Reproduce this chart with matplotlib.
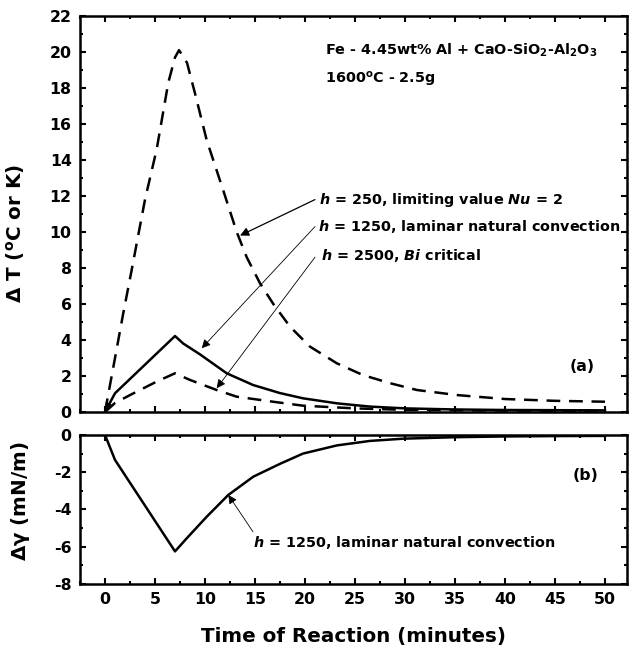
import matplotlib
matplotlib.use('Agg')
import matplotlib.pyplot as plt
from matplotlib.ticker import MultipleLocator

plt.rcParams['font.family'] = ['DejaVu Sans']
plt.rcParams['font.weight'] = 'bold'
plt.rcParams['mathtext.fontset'] = 'dejavusans'
plt.rcParams['axes.unicode_minus'] = False

# h = 250, limiting value Nu = 2
t_250 = [0, 1, 1.83, 2.67, 4.0, 5.17, 6.33, 7.0, 7.4, 8.2, 9.0, 10.17, 11.83, 13.17, 14.17,
         15.5, 16.83, 18.5, 20.5, 23.2, 25.8, 28.5, 31.2, 35.2, 40, 45, 50]
dT_250 = [0, 3.0, 5.5, 7.9, 11.8, 14.6, 18.3, 19.7, 20.1, 19.4, 17.7, 15.1, 12.3, 10.0, 8.6,
          7.15, 6.0, 4.74, 3.63, 2.7, 2.05, 1.6, 1.22, 0.94, 0.72, 0.62, 0.57]

# h = 1250, laminar natural convection
t_1250 = [0, 1, 7, 7.83, 9.5, 12.17, 14.8, 17.5, 19.8, 23.2, 26.5, 30, 35, 40, 45, 50]
dT_1250 = [0, 1.04, 4.22, 3.8, 3.2, 2.15, 1.5, 1.05, 0.76, 0.48, 0.3, 0.2, 0.14, 0.11, 0.1, 0.09]

# h = 2500, Bi critical
t_2500 = [0, 1, 2.5, 5.17, 7, 8.5, 11.17, 13.17, 16.8, 19.8, 25, 30, 40, 50]
dT_2500 = [0, 0.5, 0.94, 1.69, 2.15, 1.78, 1.22, 0.85, 0.57, 0.35, 0.2, 0.12, 0.08, 0.06]

# surface tension change, h = 1250
t_gam = [0, 1, 7, 8.17, 10.17, 12.33, 14.83, 17.5, 19.8, 23.2, 26.5, 29.8, 35, 40, 45, 50]
d_gam = [0, -1.34, -6.25, -5.55, -4.39, -3.22, -2.24, -1.55, -1.0, -0.56, -0.32, -0.2,
         -0.12, -0.08, -0.06, -0.05]

fig = plt.figure(figsize=(6.29, 6.49), dpi=100)
ax1 = fig.add_axes([0.1272, 0.3652, 0.8696, 0.6102])
ax2 = fig.add_axes([0.1272, 0.1002, 0.8696, 0.2296])

dash = (5.5, 3.5)
ax1.plot(t_250, dT_250, color='k', lw=1.8, dashes=dash)
ax1.plot(t_1250, dT_1250, color='k', lw=1.8)
ax1.plot(t_2500, dT_2500, color='k', lw=1.8, dashes=dash)
ax2.plot(t_gam, d_gam, color='k', lw=1.8)

for ax in (ax1, ax2):
    ax.set_xlim(-2.5, 52.2)
    ax.xaxis.set_major_locator(MultipleLocator(5))
    ax.xaxis.set_minor_locator(MultipleLocator(2.5))
    ax.yaxis.set_major_locator(MultipleLocator(2))
    ax.yaxis.set_minor_locator(MultipleLocator(1))
    ax.tick_params(which='both', direction='in', top=True, right=True, width=1.5,
                   labelsize=11.3, pad=6)
    ax.tick_params(which='major', length=4)
    ax.tick_params(which='minor', length=2.2)
    for s in ax.spines.values():
        s.set_linewidth(1.8)

ax1.set_ylim(0, 22)
ax1.tick_params(labelbottom=False)
ax2.set_ylim(-8, 0)

ax1.set_ylabel(r'$\Delta$ T ($^{\mathbf{o}}$C or K)', fontsize=14.3, fontweight='bold')
ax1.yaxis.set_label_coords(-0.097, 0.45)
ax2.set_ylabel(r'$\mathregular{\Delta\gamma}$ (mN/m)', fontsize=14.3, fontweight='bold')
ax2.yaxis.set_label_coords(-0.088, 0.557)
ax2.set_xlabel('Time of Reaction (minutes)', fontsize=14.3, fontweight='bold', labelpad=14)

ax1.text(22, 20.1, r'Fe - 4.45wt% Al + CaO-SiO$_{\mathbf{2}}$-Al$_{\mathbf{2}}$O$_{\mathbf{3}}$',
         fontsize=10.4, va='center')
ax1.text(22, 18.45, r'1600$^{\mathbf{o}}$C - 2.5g', fontsize=10.4, va='center')
ax1.text(46.5, 2.5, '(a)', fontsize=11.3, va='center')
ax2.text(46.8, -2.15, '(b)', fontsize=11.3, va='center')

arr = dict(arrowstyle='-|>', color='k', lw=0.9, mutation_scale=13, shrinkA=0, shrinkB=0)
thin = dict(arrowstyle='-|>', color='k', lw=0.6, mutation_scale=13, shrinkA=0, shrinkB=0)
ax1.annotate('', xy=(13.5, 9.8), xytext=(21, 11.8), arrowprops=arr)
ax1.annotate('', xy=(9.67, 3.54), xytext=(21, 10.3), arrowprops=thin)
ax1.annotate('', xy=(11.17, 1.32), xytext=(21, 8.6), arrowprops=thin)
ax1.annotate('', xy=(0.05, 0.05), xytext=(0.9, 0.95), arrowprops=thin)
ax1.text(21.4, 11.8, r'$\mathbfit{h}$ = 250, limiting value $\mathbfit{Nu}$ = 2', fontsize=10.4, va='center')
ax1.text(21.3, 10.3, r'$\mathbfit{h}$ = 1250, laminar natural convection', fontsize=10.4, va='center')
ax1.text(21.6, 8.67, r'$\mathbfit{h}$ = 2500, $\mathbfit{Bi}$ critical', fontsize=10.4, va='center')

ax2.annotate('', xy=(12.33, -3.22), xytext=(14.8, -5.2), arrowprops=thin)
ax2.text(14.8, -5.75, r'$\mathbfit{h}$ = 1250, laminar natural convection', fontsize=10.4, va='center')

fig.savefig('out.png', dpi=100)
